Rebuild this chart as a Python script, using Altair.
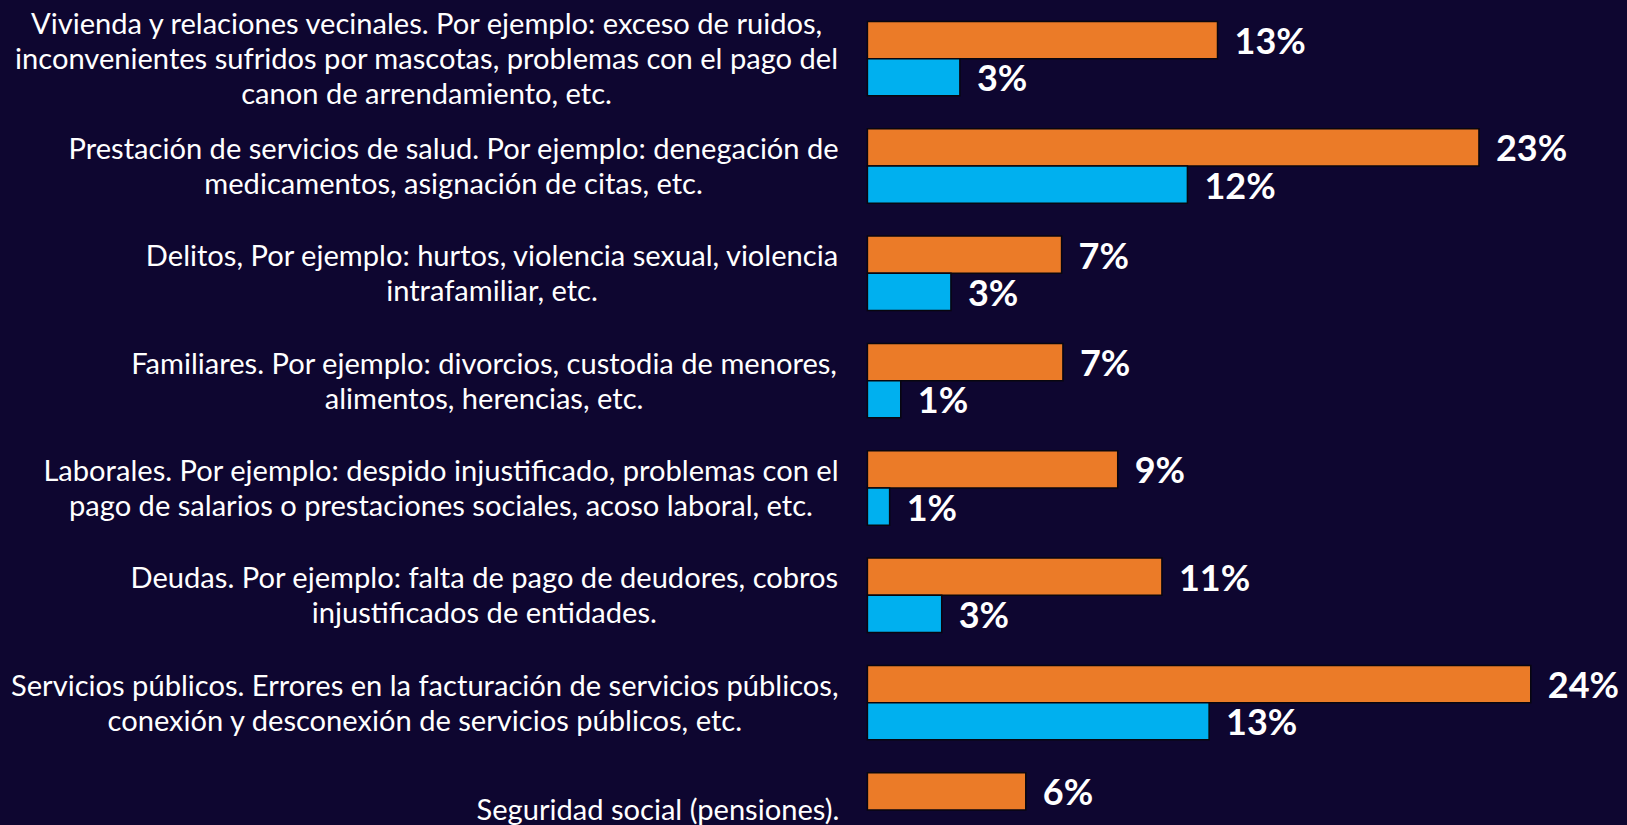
import glob
import os
import struct

import altair as alt
import pandas as pd

# ---------------------------------------------------------------- data
categories = [
    "Vivienda y relaciones vecinales. Por ejemplo: exceso de ruidos,\ninconvenientes sufridos por mascotas, problemas con el pago del\ncanon de arrendamiento, etc.",
    "Prestación de servicios de salud. Por ejemplo: denegación de\nmedicamentos, asignación de citas, etc.",
    "Delitos, Por ejemplo: hurtos, violencia sexual, violencia\nintrafamiliar, etc.",
    "Familiares. Por ejemplo: divorcios, custodia de menores,\nalimentos, herencias, etc.",
    "Laborales. Por ejemplo: despido injustificado, problemas con el\npago de salarios o prestaciones sociales, acoso laboral, etc.",
    "Deudas. Por ejemplo: falta de pago de deudores, cobros\ninjustificados de entidades.",
    "Servicios públicos. Errores en la facturación de servicios públicos,\nconexión y desconexión de servicios públicos, etc.",
    "Seguridad social (pensiones).",
]
series = ["Serie 1", "Serie 2"]
orange_values = [12.91, 22.55, 7.16, 7.21, 9.23, 10.86, 24.46, 5.84]
orange_labels = ["13%", "23%", "7%", "7%", "9%", "11%", "24%", "6%"]
blue_values = [3.41, 11.80, 3.08, 1.23, 0.82, 2.74, 12.60, None]
blue_labels = ["3%", "12%", "3%", "1%", "1%", "3%", "13%", None]

# ---------------------------------------------------------------- style
BG = "#0E0630"
ORANGE = "#EB7B28"
BLUE = "#00B0EF"
STROKE = "#08060F"
LABEL_SIZE = 29.1
LABEL_LINE = 35
VALUE_SIZE = 36

# dark page (no white margin around the chart)
PAGE_MARGIN = 8
try:
    import jinja2
    import altair.utils.html as _ah

    _orig_tmpl = _ah.TEMPLATES["standard"]

    class _DarkPage(jinja2.Template):
        def render(self, *a, **k):
            s = _orig_tmpl.render(*a, **k)
            css = ("<style>html,body{background:%s;margin:0;padding:0;"
                   "overflow:hidden;}</style>" % BG)
            if "<head>" in s:
                return s.replace("<head>", "<head>" + css, 1)
            return css + s

    _ah.TEMPLATES["standard"] = _DarkPage("")
    PAGE_MARGIN = 0
except Exception:
    PAGE_MARGIN = 8


# ---------------------------------------------------------------- text widths (Lato)
def _find_font():
    pats = ["/usr/share/fonts/**/Lato-Regular.ttf",
            "/usr/local/share/fonts/**/Lato-Regular.ttf",
            os.path.expanduser("~/.fonts/**/Lato-Regular.ttf"),
            os.path.expanduser("~/.local/share/fonts/**/Lato-Regular.ttf")]
    for p in pats:
        r = glob.glob(p, recursive=True)
        if r:
            return r[0]
    for root in ["/usr/share/fonts", "/usr/local/share/fonts"]:
        for dp, _, fn in os.walk(root):
            for f in fn:
                if f.lower() == "lato-regular.ttf":
                    return os.path.join(dp, f)
    return None


def _load_metrics(path):
    data = open(path, "rb").read()
    n = struct.unpack(">H", data[4:6])[0]
    tables = {}
    for i in range(n):
        tag, _, off, ln = struct.unpack(">4sIII", data[12 + 16 * i:28 + 16 * i])
        tables[tag.decode("latin1")] = off
    head = tables["head"]
    upem = struct.unpack(">H", data[head + 18:head + 20])[0]
    hhea = tables["hhea"]
    nhm = struct.unpack(">H", data[hhea + 34:hhea + 36])[0]
    hm = tables["hmtx"]
    adv = [struct.unpack(">H", data[hm + 4 * i:hm + 4 * i + 2])[0] for i in range(nhm)]
    cm = tables["cmap"]
    nsub = struct.unpack(">H", data[cm + 2:cm + 4])[0]
    cmap = {}
    for i in range(nsub):
        pid, eid, off = struct.unpack(">HHI", data[cm + 4 + 8 * i:cm + 12 + 8 * i])
        sub = cm + off
        fmt = struct.unpack(">H", data[sub:sub + 2])[0]
        if fmt != 4 or cmap:
            continue
        segx2 = struct.unpack(">H", data[sub + 6:sub + 8])[0]
        seg = segx2 // 2
        ends = struct.unpack(">%dH" % seg, data[sub + 14:sub + 14 + segx2])
        starts = struct.unpack(">%dH" % seg, data[sub + 16 + segx2:sub + 16 + 2 * segx2])
        deltas = struct.unpack(">%dh" % seg, data[sub + 16 + 2 * segx2:sub + 16 + 3 * segx2])
        rpos = sub + 16 + 3 * segx2
        roffs = struct.unpack(">%dH" % seg, data[rpos:rpos + segx2])
        for s in range(seg):
            for c in range(starts[s], ends[s] + 1):
                if c == 0xFFFF:
                    continue
                if roffs[s] == 0:
                    g = (c + deltas[s]) & 0xFFFF
                else:
                    p = rpos + 2 * s + roffs[s] + 2 * (c - starts[s])
                    g = struct.unpack(">H", data[p:p + 2])[0]
                    if g:
                        g = (g + deltas[s]) & 0xFFFF
                cmap[c] = g
    return upem, adv, cmap


_metrics = None
try:
    _fp = _find_font()
    if _fp:
        _metrics = _load_metrics(_fp)
except Exception:
    _metrics = None


def text_width(s, size):
    upem, adv, cmap = _metrics
    tot = 0
    for ch in s:
        g = cmap.get(ord(ch), 0)
        tot += adv[g] if g < len(adv) else adv[-1]
    return tot * size / upem


# ---------------------------------------------------------------- layout
m = PAGE_MARGIN
PX_PER_UNIT = 27.12
X_MAX = 24.5
W = X_MAX * PX_PER_UNIT
PLOT_LEFT = 867.4
GAP = 27.5
STEP = 107.33
BAND0 = 5.0
PAD_L = PLOT_LEFT - m
PAD_R = 1626 - 2 * m - PAD_L - W
H = 825 - 2 * m
Y0 = BAND0 - m

rows = []
for c, ov, ol, bv, bl in zip(categories, orange_values, orange_labels, blue_values, blue_labels):
    rows.append({"cat": c, "serie": series[0], "val": ov, "lab": ol})
    if bv is not None:
        rows.append({"cat": c, "serie": series[1], "val": bv, "lab": bl})
bars_df = pd.DataFrame(rows)

if _metrics is not None:
    lx = [-GAP - max(text_width(line, LABEL_SIZE) for line in c.split("\n")) / 2 for c in categories]
    label_align = "center"
else:
    lx = [-GAP for _ in categories]
    label_align = "right"
nlines = [len(c.split("\n")) for c in categories]
labels_df = pd.DataFrame({"cat": categories, "lx": lx, "n": nlines})

y_enc = alt.Y(
    "cat:N",
    scale=alt.Scale(domain=categories, range=[Y0, Y0 + STEP * len(categories)],
                    paddingInner=0, paddingOuter=0),
    axis=None,
)
yoff_enc = alt.YOffset(
    "serie:N",
    scale=alt.Scale(domain=series, paddingInner=0, paddingOuter=0.4426),
)
x_enc = alt.X("val:Q", scale=alt.Scale(domain=[0, X_MAX], nice=False, zero=True), axis=None)

bars = alt.Chart(bars_df).mark_bar(stroke=STROKE, strokeWidth=1.5).encode(
    x=x_enc,
    y=y_enc,
    yOffset=yoff_enc,
    color=alt.Color("serie:N", scale=alt.Scale(domain=series, range=[ORANGE, BLUE]), legend=None),
)

values = alt.Chart(bars_df).mark_text(
    align="left", baseline="middle", dx=17, dy=3, font="Lato", fontWeight="bold",
    fontSize=VALUE_SIZE, color="white",
).encode(
    x=x_enc,
    y=y_enc,
    yOffset=yoff_enc,
    text="lab:N",
)

label_layers = []
for k in sorted(set(nlines)):
    label_layers.append(
        alt.Chart(labels_df).transform_filter(alt.datum.n == k).mark_text(
            align=label_align, baseline="middle", font="Lato", fontSize=LABEL_SIZE,
            lineHeight=LABEL_LINE, lineBreak="\n", color="white",
            dy=1.5 - (k - 1) * LABEL_LINE / 2,
        ).encode(
            x=alt.X("lx:Q", scale=None, axis=None),
            y=y_enc,
            text="cat:N",
        )
    )

chart = alt.layer(bars, values, *label_layers).properties(
    width=W,
    height=H,
    background=BG,
    padding={"left": PAD_L, "right": PAD_R, "top": 0, "bottom": 0},
    autosize=alt.AutoSizeParams(type="none"),
).configure_view(stroke=None)

chart.save("out.html", embed_options={"renderer": "svg", "actions": False})
